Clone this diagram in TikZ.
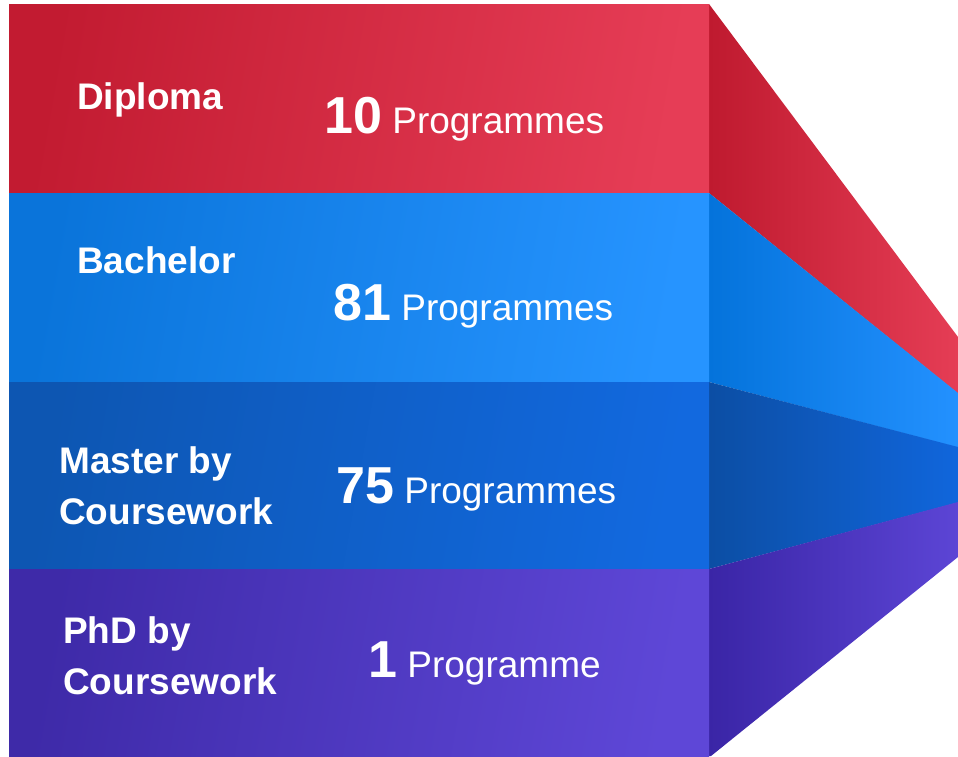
\documentclass[tikz,border=0pt]{standalone}
\usepackage{fontspec}
\setmainfont{Liberation Sans}
\definecolor{redL}{HTML}{C21B31}\definecolor{redR}{HTML}{E63D56}
\definecolor{redTL}{HTML}{BF1A2F}\definecolor{redTR}{HTML}{E53D55}
\definecolor{bluL}{HTML}{0A74DA}\definecolor{bluR}{HTML}{2694FF}
\definecolor{bluTL}{HTML}{0473DB}\definecolor{bluTR}{HTML}{2391FF}
\definecolor{dbL}{HTML}{0D56B2}\definecolor{dbR}{HTML}{1269DF}
\definecolor{dbTL}{HTML}{0C4EA4}\definecolor{dbTR}{HTML}{1066DC}
\definecolor{puL}{HTML}{3E2AA8}\definecolor{puR}{HTML}{5E47D7}
\definecolor{puTL}{HTML}{3A25A6}\definecolor{puTR}{HTML}{5C45D5}
\newcommand{\bignum}[1]{{\fontsize{52}{56}\selectfont\bfseries #1}}
\tikzset{
  lvl/.style={anchor=base west, inner sep=0pt, text=white, font=\fontsize{37}{51}\selectfont\bfseries},
  cnt/.style={anchor=base west, inner sep=0pt, text=white, font=\fontsize{37}{40}\selectfont}
}
\begin{document}
\begin{tikzpicture}[x=1pt,y=-1pt]
\useasboundingbox (0,0) rectangle (958,756);
% right-hand funnel pieces
\shade[left color=redTL,right color=redTR] (709,4) -- (958,337) -- (958,393.5) -- (709,193) -- cycle;
\shade[left color=bluTL,right color=bluTR] (709,193) -- (958,393) -- (958,447.5) -- (709,382) -- cycle;
\shade[left color=dbTL,right color=dbTR] (709,382) -- (958,447) -- (958,502.5) -- (709,569) -- cycle;
\shade[left color=puTL,right color=puTR] (709,569) -- (958,502) -- (958,557) -- (711,756) -- (709,756) -- cycle;
% bands
\shade[left color=redL,right color=redR,shading angle=80] (9,4) rectangle (709,193);
\shade[left color=bluL,right color=bluR,shading angle=80] (9,193) rectangle (709,382);
\shade[left color=dbL,right color=dbR,shading angle=80] (9,382) rectangle (709,569);
\shade[left color=puL,right color=puR,shading angle=80] (9,569) rectangle (709,756);
% labels
\node[lvl] (dip) at (77,109) {Diploma};
\node[cnt] (dipn) at (324,133) {\bignum{10} Programmes};
\node[lvl] (bac) at (77,273) {Bachelor};
\node[cnt] (bacn) at (333,320) {\bignum{81} Programmes};
\node[lvl] (mas1) at (59,473) {Master by};
\node[lvl] (mas2) at (59,524) {Coursework};
\node[cnt] (masn) at (336,503) {\bignum{75} Programmes};
\node[lvl] (phd1) at (63,643) {PhD by};
\node[lvl] (phd2) at (63,694) {Coursework};
\node[cnt] (phdn) at (368,677) {\bignum{1} Programme};
\end{tikzpicture}
\end{document}
